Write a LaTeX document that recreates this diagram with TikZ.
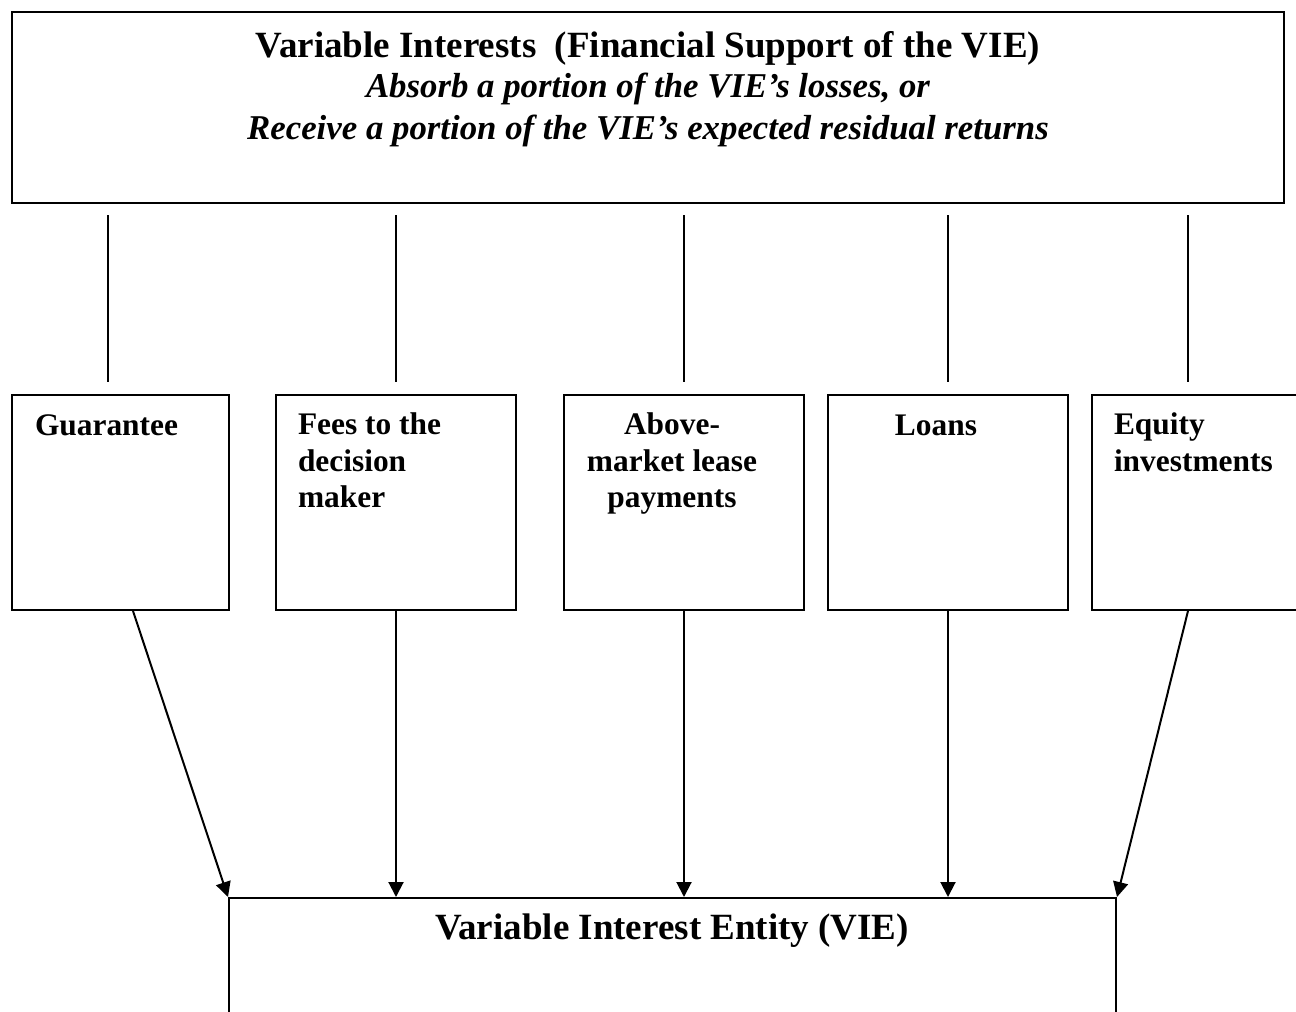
\documentclass[tikz,border=0pt]{standalone}
\usepackage{fontspec}
\setmainfont{Liberation Serif}
\usetikzlibrary{arrows.meta,calc}
\begin{document}
\begin{tikzpicture}[x=1pt,y=-1pt, line width=2pt,
  box/.style={draw, rectangle, inner sep=0pt, minimum height=215pt},
  boxtext/.style={inner sep=0pt, font=\fontsize{31.4}{36.5}\selectfont\bfseries},
  bigtext/.style={inner sep=0pt, font=\fontsize{37}{40}\selectfont\bfseries},
  ittext/.style={inner sep=0pt, font=\fontsize{34.8}{40}\selectfont\bfseries\itshape},
  conn/.style={line width=2pt, shorten <=11pt, shorten >=12pt},
  arr/.style={line width=2pt, -{Triangle[length=15pt,width=15pt]}},
]
\useasboundingbox (0,0) rectangle (1296,1012);
\clip (0,0) rectangle (1296,1012);

% top box
\node[draw, inner sep=0pt, minimum width=1272pt, minimum height=191pt] (top) at (648,107.5) {};
\node[bigtext, anchor=base] (title) at (648,57) {Variable Interests~ (Financial Support of the VIE)};
\node[ittext, anchor=base] (sub1) at (648,97) {Absorb a portion of the VIE’s losses, or};
\node[ittext, anchor=base] (sub2) at (648,139) {Receive a portion of the VIE’s expected residual returns};

% boxes
\node[box, minimum width=217pt] (b1) at (120.5,502.5) {};
\node[box, minimum width=240pt] (b2) at (396,502.5) {};
\node[box, minimum width=240pt] (b3) at (684,502.5) {};
\node[box, minimum width=240pt] (b4) at (948,502.5) {};
\node[box, minimum width=240pt] (b5) at (1212,502.5) {};

\node[boxtext, anchor=base west] (t1) at (34,435) {Guarantee};
\node[boxtext, anchor=north west, align=left] (t2) at (297,412) {Fees to the\\decision\\maker};
\node[boxtext, anchor=north, align=center] (t3) at (672,412) {Above-\\market lease\\payments};
\node[boxtext, anchor=base] (t4) at (936,435) {Loans};
\node[boxtext, anchor=north west, align=left] (t5) at (1113,412) {Equity\\investments};

% bottom entity
\node[draw, inner sep=0pt, minimum width=887pt, minimum height=200pt, anchor=north] (vie) at (672.5,897) {};
\node[bigtext, anchor=base] (vietext) at (672,939) {Variable Interest Entity (VIE)};

% connector x positions
\coordinate (x1) at (108,0);
\coordinate (x5) at (1188,0);
\coordinate (s1) at (133,0);

\draw[conn] (top.south -| x1) -- (b1.north -| x1);
\draw[conn] (top.south -| b2.north) -- (b2.north);
\draw[conn] (top.south -| b3.north) -- (b3.north);
\draw[conn] (top.south -| b4.north) -- (b4.north);
\draw[conn] (top.south -| x5) -- (b5.north -| x5);

\draw[arr] (b1.south -| s1) -- (vie.north west);
\draw[arr] (b2.south) -- (b2.south |- vie.north);
\draw[arr] (b3.south) -- (b3.south |- vie.north);
\draw[arr] (b4.south) -- (b4.south |- vie.north);
\draw[arr] (b5.south -| x5) -- (vie.north east);
\end{tikzpicture}
\end{document}
